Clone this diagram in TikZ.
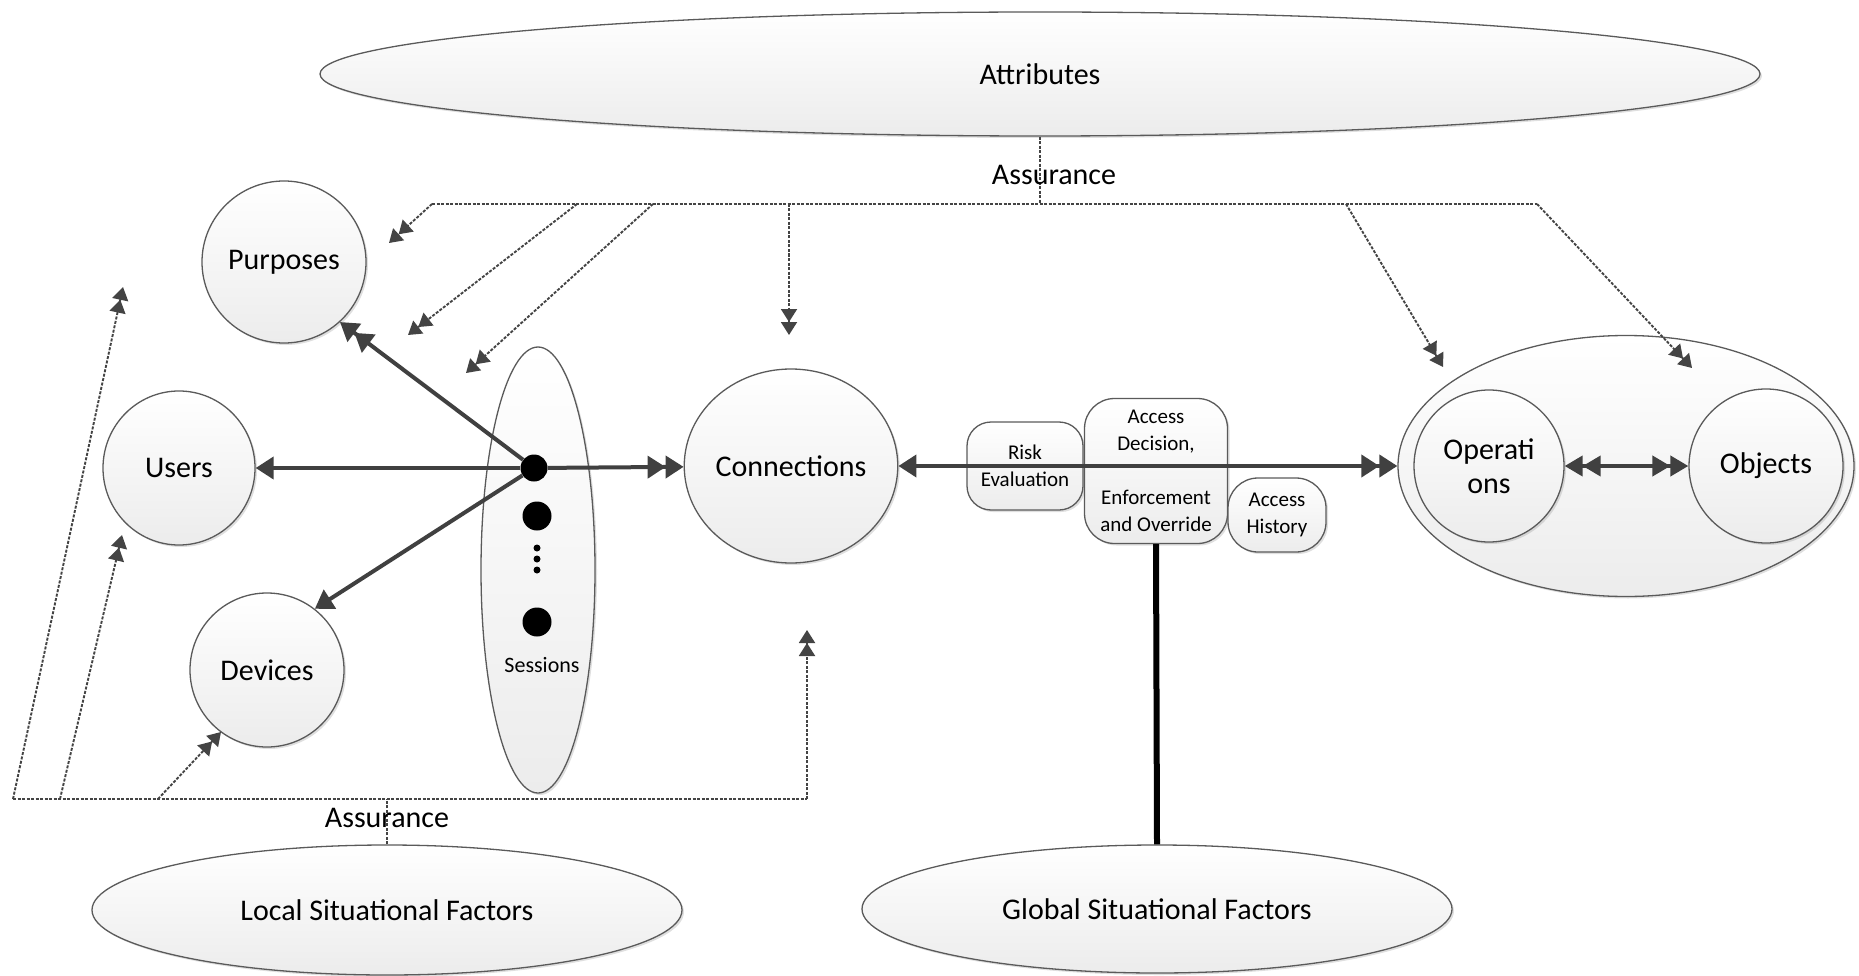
\documentclass[tikz,border=0pt]{standalone}
\usepackage{fontspec}
\setmainfont{Carlito}
\usepackage{xcolor}
\usetikzlibrary{arrows.meta,shapes.geometric,shadows}
\definecolor{rim}{HTML}{5A5A5A}
\definecolor{link}{HTML}{404040}
\definecolor{hint}{HTML}{444444}
\definecolor{paper}{HTML}{ECECEC}
\tikzset{
  blob/.style={ellipse, draw=rim, line width=1.3pt, inner sep=0pt,
    top color=white, bottom color=paper,
    drop shadow={shadow xshift=2pt, shadow yshift=-2pt, opacity=0.25},
    font=\fontsize{30}{34}\selectfont},
  box/.style={rectangle, rounded corners=24pt, draw=rim, line width=1.3pt,
    top color=white, bottom color=paper, inner sep=0pt, align=center,
    drop shadow={shadow xshift=2pt, shadow yshift=-2pt, opacity=0.25},
    font=\fontsize{21}{27}\selectfont},
  dot/.style={circle, fill=black, inner sep=0pt, minimum size=#1},
  tie/.style={draw=link, line width=4pt},
  onehead/.style={-{Triangle[length=18pt,width=22pt]}},
  twohead/.style={-{Triangle[length=18pt,width=22pt]Triangle[length=18pt,width=22pt]}},
  bothtwo/.style={{Triangle[length=18pt,width=20pt]Triangle[length=18pt,width=20pt]}-{Triangle[length=18pt,width=20pt]Triangle[length=18pt,width=20pt]}},
  assure/.style={draw=hint, line width=1.9pt, dash pattern=on 3pt off 1.5pt},
  hint2/.style={-{Triangle[length=13pt,width=16pt]Triangle[length=13pt,width=16pt]}},
  lab/.style={font=\fontsize{30}{34}\selectfont}
}

\begin{document}
\begin{tikzpicture}[x=1pt,y=-1pt]
  \useasboundingbox (0,0) rectangle (1859,976);

  % top and bottom factors
  \node[blob, minimum width=1440pt, minimum height=124pt] (attr) at (1040,74) {Attributes};
  \node[blob, minimum width=590pt, minimum height=130pt] (local) at (387,910) {Local Situational Factors};
  \node[blob, minimum width=590pt, minimum height=128pt] (glob) at (1157,909) {Global Situational Factors};

  % subject side
  \node[blob, minimum width=164pt, minimum height=162pt] (purp) at (284,262) {Purposes};
  \node[blob, minimum width=152pt, minimum height=154pt] (users) at (179,468) {Users};
  \node[blob, minimum width=154pt, minimum height=154pt] (dev) at (267,670) {Devices};
  \node[blob, minimum width=114pt, minimum height=446pt] (sess) at (538,570) {};
  \node[font=\fontsize{22}{26}\selectfont] (sesslab) at (542,665) {Sessions};
  \node[dot=27pt] (hub) at (534,468) {};
  \node[dot=29pt] (s2) at (537,516) {};
  \node[dot=7pt] (e1) at (537,548) {};
  \node[dot=7pt] (e2) at (537,559) {};
  \node[dot=7pt] (e3) at (537,570) {};
  \node[dot=29pt] (s3) at (537,622) {};
  \node[blob, minimum width=192pt, minimum height=194pt] (conn) at (791,466) {Connections};

  % object side
  \node[blob, minimum width=456pt, minimum height=261pt] (opobj) at (1626,466) {};
  \node[blob, align=center, minimum width=150pt, minimum height=152pt] (ops) at (1489,466) {Operati\\ons};
  \node[blob, minimum width=154pt, minimum height=154pt] (obj) at (1766,466) {Objects};

  % decision boxes
  \node[box, minimum width=116pt, minimum height=88pt] (risk) at (1025,466) {Risk\\Evaluation};
  \node[box, rounded corners=30pt, minimum width=143pt, minimum height=145pt] (dec) at (1156,471)
    {Access\\Decision,\\[27pt]Enforcement\\and Override};
  \node[box, rounded corners=30pt, minimum width=98pt, minimum height=74pt] (hist) at (1277,515) {Access\\History};

  % solid links
  \draw[tie, twohead] (hub) -- (purp.-47);
  \draw[tie, onehead] (hub) -- (users);
  \draw[tie, onehead] (hub) -- (dev.52);
  \draw[tie, twohead] (hub) -- (conn);
  \draw[tie, {Triangle[length=18pt,width=22pt]}-{Triangle[length=18pt,width=22pt]Triangle[length=18pt,width=22pt]}]
    (conn) -- (opobj.west);
  \draw[tie, bothtwo] (ops) -- (obj);
  \draw[line width=6pt] (dec.south) -- (glob.north);

  % assurance from attributes
  \coordinate (tl) at (432,204);
  \coordinate (tr) at (1537,204);
  \coordinate (tap) at (attr.south |- tl);
  \coordinate (t1) at (577,204);
  \coordinate (t2) at (653,204);
  \coordinate (t3) at (789,204);
  \coordinate (t4) at (1346,204);
  \coordinate (p1) at (389,243);
  \coordinate (p2) at (408,335);
  \coordinate (p3) at (466,373);
  \coordinate (p4) at (789,335);
  \coordinate (p5) at (1443,367);
  \coordinate (p6) at (1692,368);
  \draw[assure] (attr.south) -- (tap);
  \draw[assure] (tl) -- (tr);
  \draw[assure, hint2] (tl) -- (p1);
  \draw[assure, hint2] (t1) -- (p2);
  \draw[assure, hint2] (t2) -- (p3);
  \draw[assure, hint2] (t3) -- (p4);
  \draw[assure, hint2] (t4) -- (p5);
  \draw[assure, hint2] (tr) -- (p6);
  \node[lab] (topass) at (1054,175) {Assurance};

  % assurance from local factors
  \coordinate (bl) at (13,799);
  \coordinate (br) at (807,799);
  \coordinate (b1) at (60,799);
  \coordinate (b2) at (158,799);
  \coordinate (btap) at (local.north |- bl);
  \coordinate (q1) at (123,287);
  \coordinate (q2) at (122,535);
  \coordinate (q3) at (221,732);
  \coordinate (q4) at (807,630);
  \draw[assure] (local.north) -- (btap);
  \draw[assure] (bl) -- (br);
  \draw[assure, hint2] (bl) -- (q1);
  \draw[assure, hint2] (b1) -- (q2);
  \draw[assure, hint2] (b2) -- (q3);
  \draw[assure, hint2] (br) -- (q4);
  \node[lab] (botass) at (387,818) {Assurance};
\end{tikzpicture}
\end{document}
